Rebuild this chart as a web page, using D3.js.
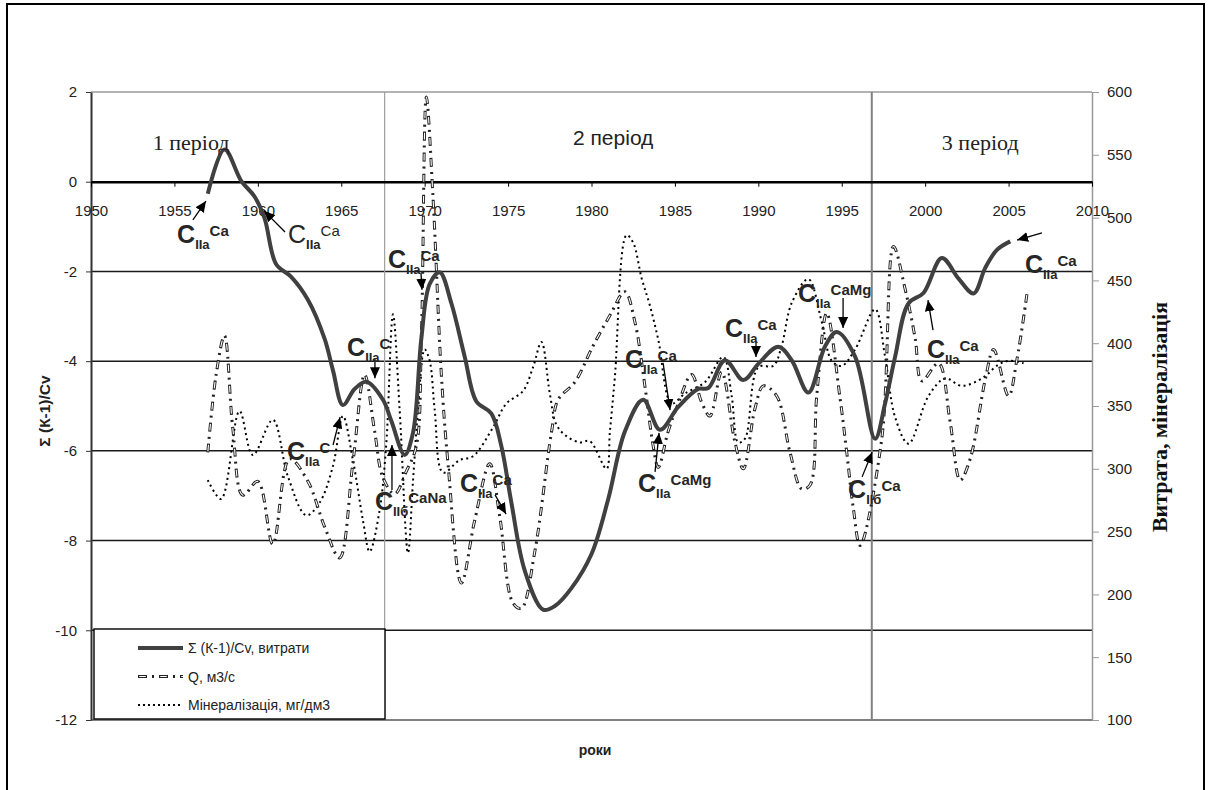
<!DOCTYPE html>
<html>
<head>
<meta charset="utf-8">
<script src="https://cdn.jsdelivr.net/npm/d3@7"></script>
<style>
  body { margin: 0; background: #fff; }
  svg { display: block; }
</style>
</head>
<body>
<svg id="chart" width="1217" height="790"></svg>
<script>
// ---------------- data ----------------
const xTicks = [1950, 1955, 1960, 1965, 1970, 1975, 1980, 1985, 1990, 1995, 2000, 2005, 2010];
const leftTicks = [2, 0, -2, -4, -6, -8, -10, -12];
const rightTicks = [100, 150, 200, 250, 300, 350, 400, 450, 500, 550, 600];
const gridValues = [-2, -4, -6, -8, -10];
const periodBounds = [1967.6, 1996.8];

// Σ (K-1)/Cv, left axis
const sumSeries = [
  [1957.0, -0.27], [1958.0, 0.72], [1959.0, 0.02], [1959.8, -0.33], [1960.4, -0.81], [1961.1, -1.84],
  [1962.0, -2.12], [1963.0, -2.63], [1964.0, -3.5], [1964.5, -4.2], [1965.1, -4.98], [1965.8, -4.62],
  [1966.5, -4.46], [1967.5, -4.86], [1968.0, -5.33], [1968.8, -6.09], [1969.3, -5.6], [1969.8, -3.5],
  [1970.3, -2.28], [1970.9, -2.02], [1971.6, -2.71], [1972.4, -3.9], [1973.1, -4.9], [1974.0, -5.17],
  [1974.6, -5.9], [1975.2, -7.16], [1976.0, -8.67], [1977.1, -9.54], [1977.8, -9.46], [1978.8, -9.06],
  [1980.0, -8.3], [1981.0, -7.08], [1982.0, -5.57], [1983.1, -4.86], [1984.1, -5.53], [1985.2, -5.02],
  [1986.4, -4.62], [1987.0, -4.6], [1988.0, -3.98], [1989.1, -4.42], [1990.0, -4.06], [1991.2, -3.68],
  [1992.0, -3.98], [1993.0, -4.7], [1994.0, -3.67], [1994.7, -3.35], [1995.8, -3.9], [1997.0, -5.73],
  [1997.6, -4.94], [1998.2, -3.9], [1999.0, -2.71], [1999.9, -2.48], [2001.0, -1.7], [2002.0, -2.16],
  [2002.9, -2.49], [2003.6, -1.92], [2004.3, -1.52], [2005.1, -1.33]
];

// Q, m3/s, right axis
const flowSeries = [
  [1957.0, 313], [1957.5, 375], [1958.0, 406], [1958.5, 332], [1959.1, 279], [1960.0, 290], [1960.9, 240],
  [1961.9, 308], [1963.0, 290], [1964.0, 254], [1964.9, 229], [1965.7, 305], [1966.4, 375], [1967.0, 330],
  [1967.5, 293], [1968.2, 280], [1968.9, 298], [1969.5, 318], [1969.8, 403], [1970.1, 596], [1970.5, 516],
  [1971.0, 375], [1971.4, 304], [1972.2, 209], [1973.0, 259], [1973.9, 304], [1974.5, 262], [1975.3, 193],
  [1975.8, 189], [1976.6, 234], [1977.6, 329], [1978.0, 355], [1979.0, 369], [1980.1, 398], [1981.1, 422],
  [1982.0, 441], [1982.6, 417], [1983.2, 366], [1983.7, 318], [1984.0, 301], [1984.6, 330], [1985.2, 352],
  [1986.0, 375], [1986.6, 353], [1987.1, 342], [1987.8, 377], [1988.6, 321], [1989.1, 300], [1989.8, 348],
  [1990.3, 366], [1991.1, 358], [1991.9, 313], [1992.6, 284], [1993.1, 287], [1993.5, 358], [1994.1, 424],
  [1994.9, 356], [1995.3, 313], [1995.7, 268], [1996.1, 239], [1997.4, 324], [1998.1, 477], [1998.8, 443],
  [1999.4, 404], [1999.8, 370], [2000.8, 384], [2001.5, 337], [2002.1, 291], [2002.7, 308], [2003.6, 371],
  [2004.1, 395], [2005.0, 358], [2005.5, 387], [2006.1, 439]
];

// mineralisation, mg/dm3, right axis
const mineralSeries = [
  [1957.0, 291], [1957.8, 276], [1958.9, 346], [1959.7, 311], [1960.9, 339], [1961.8, 294], [1962.9, 263],
  [1963.7, 273], [1964.5, 302], [1965.1, 342], [1965.7, 307], [1966.3, 259], [1966.7, 234], [1967.3, 267],
  [1967.7, 320], [1968.1, 423], [1968.5, 347], [1969.0, 233], [1969.3, 290], [1969.6, 347], [1970.0, 395],
  [1970.3, 386], [1970.6, 347], [1971.1, 297], [1972.1, 307], [1972.9, 310], [1974.1, 333], [1974.9, 352],
  [1975.9, 362], [1976.5, 381], [1977.0, 401], [1977.5, 360], [1977.9, 335], [1978.5, 326], [1979.3, 321],
  [1979.9, 322], [1980.9, 300], [1981.1, 329], [1981.4, 373], [1982.1, 486], [1982.5, 480], [1983.0, 452],
  [1983.5, 430], [1984.0, 403], [1984.8, 352], [1985.6, 360], [1986.8, 369], [1987.9, 389], [1988.4, 358],
  [1988.8, 321], [1989.2, 324], [1990.0, 381], [1990.9, 382], [1991.4, 398], [1992.0, 432], [1993.0, 451],
  [1993.8, 417], [1994.4, 386], [1995.0, 382], [1995.8, 395], [1997.0, 427], [1997.6, 389], [1998.2, 341],
  [1999.0, 320], [2000.2, 358], [2001.2, 372], [2002.2, 366], [2003.4, 372], [2004.4, 383], [2005.0, 386],
  [2005.9, 384]
];

const periodLabels = [
  { text: '1 період', year: 1956.0, v: 0.71, serif: true },
  { text: '2 період', year: 1981.3, v: 0.82, serif: false },
  { text: '3 період', year: 2003.3, v: 0.71, serif: true }
];

// chemical-type notes: label anchor and arrow (year, left-axis value)
const notes = [
  { year: 1955.16, v: -1.37, sub: 'IIa', sup: 'Ca', bold: true, from: [1956.11, -0.85], to: [1956.89, -0.43] },
  { year: 1961.81, v: -1.37, sub: 'IIa', sup: 'Ca', bold: false, from: [1961.63, -1.12], to: [1960.37, -0.65] },
  { year: 1967.80, v: -1.92, sub: 'IIa', sup: 'Ca', bold: true, from: [1969.78, -2.04], to: [1969.84, -2.41] },
  { year: 1965.35, v: -3.89, sub: 'IIa', sup: 'C', bold: true, from: [1967.02, -3.93], to: [1967.02, -4.38] },
  { year: 1961.75, v: -6.20, sub: 'IIa', sup: 'C', bold: true, from: [1964.51, -5.87], to: [1964.93, -5.25] },
  { year: 1967.02, v: -7.32, sub: 'IIб', sup: 'CaNa', bold: true, from: [1968.04, -6.87], to: [1968.04, -5.87] },
  { year: 1972.12, v: -6.92, sub: 'IIa', sup: 'Ca', bold: true, from: [1974.22, -6.98], to: [1974.88, -7.41] },
  { year: 1982.01, v: -4.15, sub: 'IIa', sup: 'Ca', bold: true, from: [1984.29, -4.04], to: [1984.71, -5.09] },
  { year: 1982.79, v: -6.92, sub: 'IIa', sup: 'CaMg', bold: true, from: [1983.81, -6.47], to: [1984.05, -5.60] },
  { year: 1988.00, v: -3.46, sub: 'IIa', sup: 'Ca', bold: true, from: [1989.86, -3.57], to: [1989.86, -3.91] },
  { year: 1992.38, v: -2.68, sub: 'IIa', sup: 'CaMg', bold: true, from: [1995.08, -2.59], to: [1995.08, -3.26] },
  { year: 2000.11, v: -3.93, sub: 'IIa', sup: 'Ca', bold: true, from: [2000.47, -3.31], to: [2000.17, -2.64] },
  { year: 1995.38, v: -7.05, sub: 'IIб', sup: 'Ca', bold: true, from: [1996.22, -6.58], to: [1996.82, -6.03] },
  { year: 2005.98, v: -2.04, sub: 'IIa', sup: 'Ca', bold: true, from: [2007.00, -1.14], to: [2005.51, -1.30] }
];

const legendItems = [
  { key: 'sum', label: 'Σ (К-1)/Cv, витрати' },
  { key: 'flow', label: 'Q, м3/с' },
  { key: 'mineral', label: 'Мінералізація, мг/дм3' }
];

// ---------------- layout ----------------
const plot = { left: 91, right: 1092, top: 92, bottom: 720 };
const sans = "'Liberation Sans', Arial, sans-serif";
const serif = "'Liberation Serif', 'Times New Roman', serif";
const fontsize = 15;

const svg = d3.select('#chart');

const x = d3.scaleLinear().domain([1950, 2010]).range([plot.left, plot.right]);
const yL = d3.scaleLinear().domain([-12, 2]).range([plot.bottom, plot.top]);
const yR = d3.scaleLinear().domain([100, 600]).range([plot.bottom, plot.top]);

// outer frame
svg.append('rect')
  .attr('x', 7).attr('y', 4).attr('width', 1197).attr('height', 800)
  .attr('fill', 'none').attr('stroke', '#000').attr('stroke-width', 2);

// horizontal grid
svg.append('g').selectAll('line').data(gridValues).enter().append('line')
  .attr('x1', plot.left).attr('x2', plot.right)
  .attr('y1', d => yL(d)).attr('y2', d => yL(d))
  .attr('stroke', '#1a1a1a').attr('stroke-width', 1.5);

// top & bottom frame of plot
svg.append('line').attr('x1', plot.left).attr('x2', plot.right).attr('y1', yL(2)).attr('y2', yL(2))
  .attr('stroke', '#9a9a9a').attr('stroke-width', 1.5);
svg.append('line').attr('x1', plot.left).attr('x2', plot.right).attr('y1', yL(-12)).attr('y2', yL(-12))
  .attr('stroke', '#808080').attr('stroke-width', 2);

// period boundaries
svg.append('g').selectAll('line').data(periodBounds).enter().append('line')
  .attr('x1', d => x(d)).attr('x2', d => x(d))
  .attr('y1', plot.top).attr('y2', plot.bottom)
  .attr('stroke', (d, i) => i === 0 ? '#a0a0a0' : '#808080')
  .attr('stroke-width', (d, i) => i === 0 ? 1.2 : 2);

// left axis
const yAxisG = svg.append('g')
  .attr('transform', `translate(${plot.left},0)`)
  .call(d3.axisLeft(yL).tickValues(leftTicks).tickSize(5).tickSizeOuter(0).tickPadding(9).tickFormat(d => String(d)));
yAxisG.select('.domain').attr('stroke', '#333').attr('stroke-width', 2);
yAxisG.selectAll('.tick line').attr('stroke', '#333');
yAxisG.selectAll('text').style('font-size', fontsize).style('font-family', sans).attr('fill', '#222');

// right axis
const yRAxisG = svg.append('g')
  .attr('transform', `translate(${plot.right},0)`)
  .call(d3.axisRight(yR).tickValues(rightTicks).tickSize(7).tickSizeOuter(0).tickPadding(8));
yRAxisG.select('.domain').attr('stroke', '#999').attr('stroke-width', 1.5);
yRAxisG.selectAll('.tick line').attr('stroke', '#999');
yRAxisG.selectAll('text').style('font-size', fontsize).style('font-family', sans).attr('fill', '#222');

// x axis along zero
const xAxisG = svg.append('g')
  .attr('transform', `translate(0,${yL(0)})`)
  .call(d3.axisBottom(x).tickValues(xTicks).tickSize(5).tickSizeOuter(0).tickPadding(19).tickFormat(d3.format('d')));
xAxisG.select('.domain').attr('stroke', '#000').attr('stroke-width', 2.6);
xAxisG.selectAll('.tick line').attr('stroke', '#000');
xAxisG.selectAll('text').style('font-size', fontsize).style('font-family', sans).attr('fill', '#222');

// ---------------- series ----------------
const curve = d3.curveCatmullRom.alpha(0.5);
const lineL = d3.line().x(d => x(d[0])).y(d => yL(d[1])).curve(curve);
const lineR = d3.line().x(d => x(d[0])).y(d => yR(d[1])).curve(curve);

// mineralisation – dotted
svg.append('path').attr('d', lineR(mineralSeries))
  .attr('fill', 'none').attr('stroke', '#000').attr('stroke-width', 2)
  .attr('stroke-dasharray', '2 3.5');

// Q – hollow dash, dot
function drawFlow(sel, d) {
  sel.append('path').attr('d', d).attr('fill', 'none')
    .attr('stroke', '#222').attr('stroke-width', 3).attr('stroke-dasharray', '9 5 2 5');
  sel.append('path').attr('d', d).attr('fill', 'none')
    .attr('stroke', '#fff').attr('stroke-width', 1.1).attr('stroke-dasharray', '0 1.2 6.6 13.2');
}
drawFlow(svg.append('g'), lineR(flowSeries));

// Σ – thick solid
svg.append('path').attr('d', lineL(sumSeries))
  .attr('fill', 'none').attr('stroke', '#404040').attr('stroke-width', 4)
  .attr('stroke-linejoin', 'round');

// ---------------- notes ----------------
svg.append('defs').append('marker')
  .attr('id', 'arrow').attr('markerUnits', 'userSpaceOnUse')
  .attr('markerWidth', 12).attr('markerHeight', 10)
  .attr('refX', 11).attr('refY', 5).attr('orient', 'auto')
  .append('path').attr('d', 'M0,0 L11,5 L0,10 Z').attr('fill', '#000');

const noteG = svg.append('g');
notes.forEach(n => {
  noteG.append('line')
    .attr('x1', x(n.from[0])).attr('y1', yL(n.from[1]))
    .attr('x2', x(n.to[0])).attr('y2', yL(n.to[1]))
    .attr('stroke', '#000').attr('stroke-width', 1.3)
    .attr('marker-end', 'url(#arrow)');
  const t = noteG.append('text')
    .attr('x', x(n.year)).attr('y', yL(n.v))
    .style('font-family', sans).attr('fill', '#262626');
  t.append('tspan').text('C').style('font-size', '25px').style('font-weight', n.bold ? 700 : 400);
  t.append('tspan').text(n.sub).attr('dy', 6).style('font-size', '13px').style('font-weight', 700);
  t.append('tspan').text(n.sup).attr('dy', -13).style('font-size', '15px').style('font-weight', n.bold ? 700 : 400);
});

// period captions
svg.append('g').selectAll('text').data(periodLabels).enter().append('text')
  .attr('x', d => x(d.year)).attr('y', d => yL(d.v))
  .attr('text-anchor', 'middle')
  .style('font-family', d => d.serif ? serif : sans)
  .style('font-size', d => d.serif ? '22px' : '21px')
  .attr('fill', '#222')
  .text(d => d.text);

// ---------------- legend ----------------
const legend = svg.append('g').attr('transform', 'translate(94,629)');
legend.append('rect').attr('width', 291).attr('height', 90)
  .attr('fill', '#fff').attr('stroke', '#000').attr('stroke-width', 1.4);
legendItems.forEach((it, i) => {
  const cy = 19 + i * 28.5;
  const d = `M44,${cy} L89,${cy}`;
  if (it.key === 'sum') {
    legend.append('path').attr('d', d).attr('stroke', '#404040').attr('stroke-width', 4);
  } else if (it.key === 'flow') {
    drawFlow(legend, d);
  } else {
    legend.append('path').attr('d', d).attr('stroke', '#000').attr('stroke-width', 2).attr('stroke-dasharray', '2 3');
  }
  legend.append('text').attr('x', 94).attr('y', cy + 5)
    .style('font-family', sans).style('font-size', '14px').attr('fill', '#222')
    .text(it.label);
});

// ---------------- axis titles ----------------
svg.append('text')
  .attr('transform', 'translate(50,411) rotate(-90)')
  .attr('text-anchor', 'middle')
  .style('font-family', sans).style('font-size', '15.5px').style('font-weight', 700).attr('fill', '#222')
  .text('Σ (К-1)/Cv');

svg.append('text')
  .attr('transform', 'translate(1167,417) rotate(-90)')
  .attr('text-anchor', 'middle')
  .style('font-family', serif).style('font-size', '22px').style('font-weight', 700).attr('fill', '#111')
  .text('Витрата, мінералізація');

svg.append('text')
  .attr('x', 595).attr('y', 755)
  .attr('text-anchor', 'middle')
  .style('font-family', sans).style('font-size', '14px').style('font-weight', 700).attr('fill', '#222')
  .text('роки');
</script>
</body>
</html>
